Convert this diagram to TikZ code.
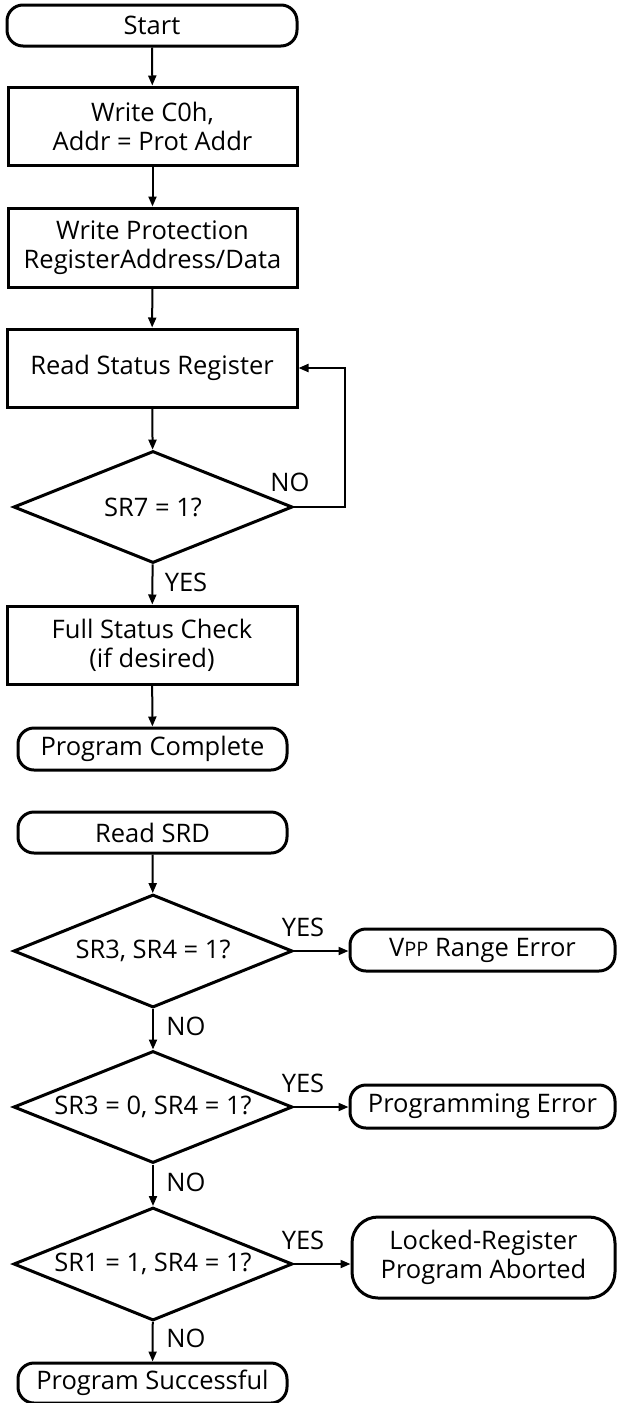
\documentclass[tikz,border=0pt]{standalone}
\usepackage{fontspec}
\setmainfont{Open Sans}
\usetikzlibrary{shapes.geometric,arrows.meta}
\begin{document}
\begin{tikzpicture}[x=1pt,y=-1pt,
  every node/.style={font=\fontsize{25.5}{29}\selectfont, inner sep=0pt, align=center},
  procbox/.style={draw, line width=3pt, minimum width=289pt, minimum height=78pt},
  term/.style={draw, line width=3pt, rounded corners=16pt, minimum width=269pt, minimum height=41pt},
  dec/.style={draw, diamond, line width=3pt, aspect=2.5, minimum width=279pt, minimum height=112pt},
  conn/.style={line width=2pt, -{Triangle[length=10pt,width=8pt]}},
  lbl/.style={font=\fontsize{25.5}{29}\selectfont}
]
\useasboundingbox (0,0) rectangle (616,1403);
% upper chart
\node[term, minimum width=290pt] (start) at (152,25.5) {Start};
\node[procbox] (b2) at (152.5,126) {Write C0h,\\Addr = Prot Addr};
\node[procbox, minimum height=79pt] (b3) at (152.5,247.5) {Write Protection\\RegisterAddress/Data};
\node[procbox, minimum width=290pt] (rsr) at (152,368) {Read Status Register};
\node[dec] (d1) at (153,507) {SR7 = 1?};
\node[procbox, minimum width=290pt] (fsc) at (152,645) {Full Status Check\\(if desired)};
\node[term, minimum height=42pt] (pc) at (152.5,749) {Program Complete};
\draw[conn] (start) -- (b2);
\draw[conn] (b2) -- (b3);
\draw[conn] (b3) -- (rsr);
\draw[conn] (rsr) -- (d1);
\coordinate (loop) at (345,507);
\draw[conn] (d1.east) -- (loop) |- (rsr.east);
\draw[conn] (d1) -- (fsc);
\draw[conn] (fsc) -- (pc);
\node[lbl] (no1) at (290,482) {NO};
\node[lbl] (yes1) at (186,582) {YES};
% lower chart
\node[term] (rsrd) at (152.5,832.5) {Read SRD};
\node[dec, minimum height=113pt] (d2) at (153,951) {SR3, SR4 = 1?};
\node[dec] (d3) at (153,1107) {SR3 = 0, SR4 = 1?};
\node[dec, minimum height=113pt] (d4) at (153,1264) {SR1 = 1, SR4 = 1?};
\node[term, minimum height=40pt] (ps) at (152.5,1383) {Program Successful};
\node[term, minimum width=265pt, minimum height=42pt] (vpp) at (482.5,950) {V{\fontsize{20}{22}\selectfont PP} Range Error};
\node[term, minimum width=265pt, minimum height=43pt] (pe) at (482.5,1106.5) {Programming Error};
\node[term, rounded corners=26pt, minimum width=263pt, minimum height=81pt] (lr) at (483.5,1257.5) {Locked-Register\\Program Aborted};
\draw[conn] (rsrd) -- (d2);
\draw[conn] (d2) -- (d3);
\draw[conn] (d3) -- (d4);
\draw[conn] (d4) -- (ps);
\draw[conn] (d2.east) -- (vpp.west |- d2.east);
\draw[conn] (d3.east) -- (pe.west |- d3.east);
\draw[conn] (d4.east) -- (lr.west |- d4.east);
\node[lbl] (yes2) at (303,927) {YES};
\node[lbl] (yes3) at (303,1083) {YES};
\node[lbl] (yes4) at (303,1240) {YES};
\node[lbl] (no2) at (186,1026) {NO};
\node[lbl] (no3) at (186,1182) {NO};
\node[lbl] (no4) at (186,1338) {NO};
\end{tikzpicture}
\end{document}
